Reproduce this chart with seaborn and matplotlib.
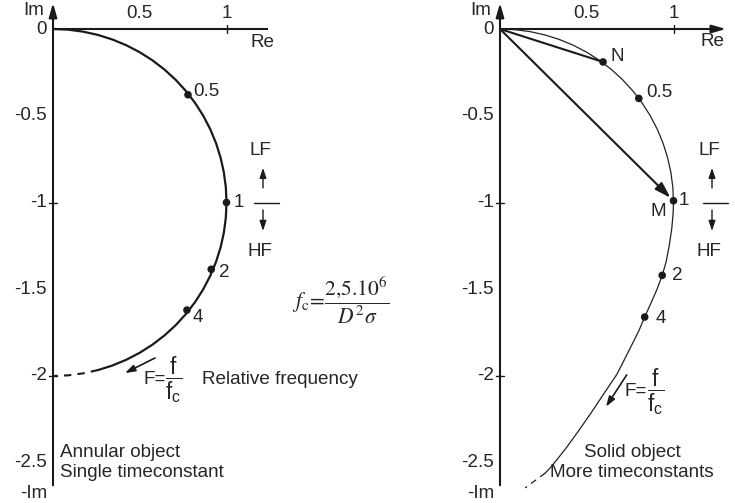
import numpy as np
import pandas as pd
import matplotlib
matplotlib.use("Agg")
import matplotlib.pyplot as plt
import seaborn as sns

# ---- data (Re, Im in axis units) ----
# annular object: single time constant -> semicircle
left_re = [0.0, 0.0872, 0.1736, 0.2588, 0.3420, 0.4226, 0.5, 0.5736, 0.6428,
           0.7071, 0.7660, 0.8192, 0.8660, 0.9063, 0.9397, 0.9659, 0.9848,
           0.9962, 1.0, 0.9962, 0.9848, 0.9659, 0.9397, 0.9063, 0.8660,
           0.8192, 0.7660, 0.7071, 0.6428, 0.5736, 0.5, 0.4226, 0.3420,
           0.2588]
left_im = [0.0, -0.0038, -0.0152, -0.0341, -0.0603, -0.0937, -0.1340,
           -0.1808, -0.2340, -0.2929, -0.3572, -0.4264, -0.5, -0.5774,
           -0.6580, -0.7412, -0.8264, -0.9128, -1.0, -1.0872, -1.1736,
           -1.2588, -1.3420, -1.4226, -1.5, -1.5736, -1.6428, -1.7071,
           -1.7660, -1.8192, -1.8660, -1.9063, -1.9397, -1.9659]
left_dash_re = [0.2588, 0.1736, 0.0872, 0.0]
left_dash_im = [-1.9659, -1.9848, -1.9962, -2.0]
left_f = ["0.5", "1", "2", "4"]
left_f_re = [0.778, 1.0, 0.912, 0.772]
left_f_im = [-0.379, -1.0, -1.385, -1.62]

# solid object: more time constants
right_re = [0.0, 0.0872, 0.1736, 0.2588, 0.3420, 0.4226, 0.5, 0.5736, 0.6428,
            0.7071, 0.7660, 0.8192, 0.8660, 0.9063, 0.9397, 0.9659, 0.9848,
            0.9962, 1.0, 0.998, 0.990, 0.975, 0.958, 0.935, 0.905, 0.870,
            0.834, 0.800, 0.740, 0.674, 0.600, 0.520, 0.450, 0.385, 0.330,
            0.289, 0.260]
right_im = [0.0, -0.0038, -0.0152, -0.0341, -0.0603, -0.0937, -0.1340,
            -0.1808, -0.2340, -0.2929, -0.3572, -0.4264, -0.5, -0.5774,
            -0.6580, -0.7412, -0.8264, -0.9128, -1.0, -1.06, -1.15, -1.25,
            -1.34, -1.42, -1.50, -1.58, -1.66, -1.74, -1.86, -1.99, -2.10,
            -2.22, -2.32, -2.41, -2.48, -2.53, -2.56]
right_dash_re = [0.26, 0.145]
right_dash_im = [-2.56, -2.645]
right_f = ["0.5", "1", "2", "4"]
right_f_re = [0.80, 1.0, 0.935, 0.834]
right_f_im = [-0.40, -0.99, -1.42, -1.66]
n_re, n_im = 0.594, -0.19

re_ticks = [0.5, 1]
im_ticks = [0, -0.5, -1, -1.5, -2, -2.5]

FS = 13.6
S = 173.5  # pixels per unit


def draw_axes(ax, x_end, x_arrow):
    """Im axis with arrow, Re axis, ticks and tick labels."""
    st = dict(arrowstyle="-|>,head_length=0.7,head_width=0.2", lw=1.5,
              color="k", mutation_scale=12, shrinkA=0, shrinkB=0)
    ax.annotate("", xy=(0, 0.15), xytext=(0, -2.63), arrowprops=st)
    if x_arrow:
        ax.annotate("", xy=(x_end, 0), xytext=(0, 0), arrowprops=st)
    else:
        ax.plot([0, x_end], [0, 0], color="k", lw=1.5, solid_capstyle="butt")
    t = 4 / S
    ax.plot([1, 1], [-t, t], color="k", lw=1)
    for v in [-1, -2]:
        ax.plot([-t, t], [v, v], color="k", lw=1)
    for v in re_ticks:
        ax.annotate(f"{v:g}", (v, 0), xytext=(0, 15), textcoords="offset pixels",
                    ha="center", va="center", fontsize=FS)
    for v in im_ticks:
        ax.annotate(f"{v:g}", (0, v), xytext=(-6, 0), textcoords="offset pixels",
                    ha="right", va="center", fontsize=FS)
    ax.text(-9 / S, 0.104, "Im", ha="right", va="center", fontsize=FS)
    ax.text(-6 / S, -2.68, "-Im", ha="right", va="center", fontsize=FS)


def lf_hf(ax, x):
    ax.text(x - 3 / S, -0.703, "LF", ha="center", va="center", fontsize=FS)
    ax.text(x - 3 / S, -1.285, "HF", ha="center", va="center", fontsize=FS)
    st = dict(arrowstyle="-|>,head_length=0.6,head_width=0.2", lw=1,
              color="k", mutation_scale=10, shrinkA=0, shrinkB=0)
    ax.annotate("", xy=(x, -0.80), xytext=(x, -0.916), arrowprops=st)
    ax.annotate("", xy=(x, -1.164), xytext=(x, -1.043), arrowprops=st)
    ax.plot([x - 0.05, x + 0.09], [-1, -1], color="k", lw=1)


def rel_freq(ax, x, y, arrow_from, arrow_to):
    ax.annotate("", xy=arrow_to, xytext=arrow_from,
                arrowprops=dict(arrowstyle="-|>,head_length=0.6,head_width=0.2",
                                lw=1.2, color="k", mutation_scale=10,
                                shrinkA=0, shrinkB=0))
    ax.text(x, y, "F=", ha="left", va="center", fontsize=FS)
    ax.text(x + 22 / S, y, r"$\mathregular{\dfrac{f}{f_c}}$", ha="left",
            va="center", fontsize=FS * 1.2)


sns.set_theme(style="white")
plt.rcParams["font.family"] = ["Liberation Sans", "DejaVu Sans"]
plt.rcParams["mathtext.fontset"] = "custom"
plt.rcParams["mathtext.rm"] = "Liberation Sans"
plt.rcParams["mathtext.it"] = "Liberation Sans:italic"
plt.rcParams["mathtext.sf"] = "Liberation Sans"

fig = plt.figure(figsize=(7.35, 5.03), dpi=100)
ax1 = fig.add_axes([0, 0, 0.5, 1])
ax2 = fig.add_axes([0.5, 0, 0.5, 1])
ax1.set_xlim(-53 / S, (367.5 - 53) / S)
ax2.set_xlim((367.5 - 500) / S, (735 - 500) / S)
for ax in (ax1, ax2):
    ax.set_ylim((29 - 503) / S, 29 / S)
    ax.set_axis_off()

# ---------- left panel ----------
draw_axes(ax1, (268 - 53) / S, False)
ax1.text(1.205, -0.075, "Re", ha="center", va="center", fontsize=FS)
left_df = pd.DataFrame({"re": left_re, "im": left_im})
sns.lineplot(data=left_df, x="re", y="im", sort=False, estimator=None,
             color="k", lw=1.6, ax=ax1)
ax1.plot(left_dash_re, left_dash_im, color="k", lw=1.5, linestyle=(0, (3.5, 3)))
ldots = pd.DataFrame({"re": left_f_re, "im": left_f_im, "F": left_f})
sns.scatterplot(data=ldots, x="re", y="im", color="k", s=30, ax=ax1,
                edgecolor="none", zorder=5)
for lab, x, y, off in zip(left_f, left_f_re, left_f_im,
                          [(5, 3), (7, 0), (8, -3), (6, -7)]):
    ax1.annotate(lab, (x, y), xytext=off, textcoords="offset pixels",
                 ha="left", va="center", fontsize=FS)
lf_hf(ax1, (263 - 53) / S)
ax1.text(1.66, -1.562, r"$f_{\mathrm{c}}\!=\!\dfrac{2{,}5.10^{6}}{D^{2}\sigma}$",
         math_fontfamily="stix", ha="center", va="center", fontsize=15.5)
rel_freq(ax1, 0.519, -2.023, (0.588, -1.896), (0.415, -1.983))
ax1.text(0.859, -2.023, "Relative frequency", ha="left", va="center",
         fontsize=FS)
ax1.text(0.04, -2.50, "Annular object\nSingle timeconstant", ha="left",
         va="center", fontsize=FS, linespacing=1.25)

# ---------- right panel ----------
draw_axes(ax2, (726 - 500) / S, True)
ax2.text(1.222, -0.07, "Re", ha="center", va="center", fontsize=FS)
# chords to N and M
ax2.plot([0, n_re], [0, n_im], color="k", lw=1.5)
ax2.annotate("", xy=(right_f_re[1], right_f_im[1]), xytext=(0, 0),
             arrowprops=dict(arrowstyle="-|>,head_length=0.8,head_width=0.25",
                             lw=1.5, color="k", mutation_scale=12,
                             shrinkA=0, shrinkB=3))
right_df = pd.DataFrame({"re": right_re, "im": right_im})
sns.lineplot(data=right_df, x="re", y="im", sort=False, estimator=None,
             color="#222222", lw=0.9, ax=ax2)
ax2.plot(right_dash_re, right_dash_im, color="k", lw=0.9,
         linestyle=(0, (5, 4)))
rdots = pd.DataFrame({"re": right_f_re + [n_re], "im": right_f_im + [n_im]})
sns.scatterplot(data=rdots, x="re", y="im", color="k", s=30, ax=ax2,
                edgecolor="none", zorder=5)
for lab, x, y, off in zip(right_f, right_f_re, right_f_im,
                          [(7, 6), (5, 0), (10, 0), (11, -1)]):
    ax2.annotate(lab, (x, y), xytext=off, textcoords="offset pixels",
                 ha="left", va="center", fontsize=FS)
ax2.annotate("N", (n_re, n_im), xytext=(7, 5), textcoords="offset pixels",
             ha="left", va="center", fontsize=FS)
ax2.annotate("M", (right_f_re[1], right_f_im[1]), xytext=(-15, -11),
             textcoords="offset pixels", ha="center", va="center", fontsize=FS)
lf_hf(ax2, (712 - 500) / S)
rel_freq(ax2, 0.72, -2.092, (0.730, -1.994), (0.611, -2.177))
ax2.text(0.761, -2.50, "Solid object\nMore timeconstants", ha="center",
         va="center", fontsize=FS, linespacing=1.25)

fig.savefig("out.png", dpi=100, facecolor="white")
